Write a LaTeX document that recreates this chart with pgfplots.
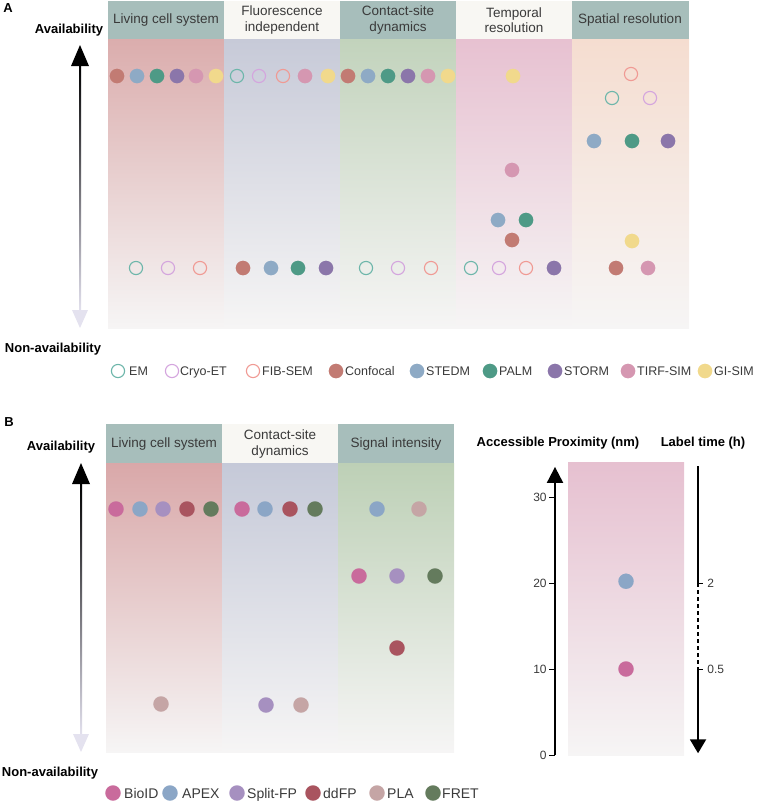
\documentclass[border=0pt]{standalone}
\usepackage{fontspec}
\setmainfont{Liberation Sans}
\usepackage{pgfplots}
\pgfplotsset{compat=1.18}
\usetikzlibrary{arrows.meta}

% marker colours, panel A
\definecolor{cEM}{HTML}{6DB6AA}
\definecolor{cCryo}{HTML}{D4A5DE}
\definecolor{cFIB}{HTML}{F09A94}
\definecolor{cConf}{HTML}{C27B73}
\definecolor{cSTED}{HTML}{8EAAC5}
\definecolor{cPALM}{HTML}{4E9A86}
\definecolor{cSTORM}{HTML}{8B76AA}
\definecolor{cTIRF}{HTML}{D597B1}
\definecolor{cGI}{HTML}{F1D98C}
% marker colours, panel B
\definecolor{cBioID}{HTML}{C96B9C}
\definecolor{cAPEX}{HTML}{8BA6C6}
\definecolor{cSplit}{HTML}{A690C0}
\definecolor{cddFP}{HTML}{A9545F}
\definecolor{cPLA}{HTML}{C5A5A5}
\definecolor{cFRET}{HTML}{647B5D}
% backgrounds
\definecolor{hdrT}{HTML}{A7BEBB}
\definecolor{hdrW}{HTML}{F8F7F3}
\definecolor{txt}{HTML}{3A3A3A}
\definecolor{botc}{HTML}{F6F5F5}
\definecolor{lav}{HTML}{E4E2EF}
\definecolor{gLiv}{HTML}{DBADAD}
\definecolor{gFlu}{HTML}{C7CAD8}
\definecolor{gCon}{HTML}{C2D3BC}
\definecolor{gTem}{HTML}{E7C1D1}
\definecolor{gSpa}{HTML}{F5DDD0}
\definecolor{gLivB}{HTML}{D9A8A9}
\definecolor{gConB}{HTML}{C5C9D8}
\definecolor{gSigB}{HTML}{BDD0B6}
\definecolor{gPink}{HTML}{E6C0D0}

\pgfplotsset{
  op/.style={only marks, mark=o, mark size=6.6pt, color=#1, mark options={line width=1.1pt}},
  fl/.style={only marks, mark=*, mark size=7.2pt, color=#1, mark options={fill=#1, draw=#1, line width=0.1pt}},
  flb/.style={only marks, mark=*, mark size=7.6pt, color=#1, mark options={fill=#1, draw=#1, line width=0.1pt}},
}
\newcommand\hf{\fontsize{13.5}{15.5}\selectfont}
\newcommand\bfn{\fontsize{13}{15}\selectfont\bfseries}
\newcommand\lf{\fontsize{12.5}{14}\selectfont}
\newcommand\lfb{\fontsize{14}{16}\selectfont}
\newcommand\tf{\fontsize{12}{14}\selectfont}

\begin{document}
\begin{tikzpicture}
\useasboundingbox (0,0) rectangle (770pt,-802pt);
\begin{axis}[at={(0pt,0pt)}, anchor=north west, scale only axis,
  width=770pt, height=802pt, xmin=0, xmax=770, ymin=0, ymax=802,
  y dir=reverse, hide axis, clip=false]

% ---------------- Panel A backgrounds
\shade[top color=gLiv, bottom color=botc] (108,39) rectangle (224,328);
\shade[top color=gFlu, bottom color=botc] (224,39) rectangle (340,328);
\shade[top color=gCon, bottom color=botc] (340,39) rectangle (456,328);
\shade[top color=gTem, bottom color=botc] (456,39) rectangle (572,328);
\shade[top color=gSpa, bottom color=botc] (572,39) rectangle (689,328);
\fill[hdrT] (108,1) rectangle (224,39);
\fill[hdrW] (224,1) rectangle (340,39);
\fill[hdrT] (340,1) rectangle (456,39);
\fill[hdrW] (456,1) rectangle (572,39);
\fill[hdrT] (572,1) rectangle (689,39);
\node[font=\hf, text=txt] at (166,20) {Living cell system};
\node[font=\hf, text=txt, align=center] at (282,20) {Fluorescence\\independent};
\node[font=\hf, text=txt, align=center] at (398,20) {Contact-site\\dynamics};
\node[font=\hf, text=txt, align=center] at (514,20) {Temporal\\resolution};
\node[font=\hf, text=txt] at (630,20) {Spatial resolution};

\node[font=\bfn] at (8,8) {A};
\node[font=\bfn] at (69,30) {Availability};
\node[font=\bfn] at (53,349) {Non-availability};
\shade[top color=black, bottom color=lav] (79,64) rectangle (81,312);
\fill[black] (80,45) -- (71,66) -- (89,66) -- cycle;
\fill[lav] (80,328) -- (72,310) -- (88,310) -- cycle;

% ---------------- Panel A data
\addplot[op=cEM]   coordinates {(237,76) (612,98) (136,268) (366,268) (471,268)};
\addplot[op=cCryo] coordinates {(259,76) (650,98) (168,268) (398,268) (499,268)};
\addplot[op=cFIB]  coordinates {(283,76) (631,74) (200,268) (431,268) (526,268)};
\addplot[fl=cConf] coordinates {(117,76) (348,76) (512,240) (616,268) (243,268)};
\addplot[fl=cSTED] coordinates {(137,76) (368,76) (594,141) (498,220) (271,268)};
\addplot[fl=cPALM] coordinates {(157,76) (388,76) (632,141) (526,220) (298,268)};
\addplot[fl=cSTORM] coordinates {(177,76) (408,76) (668,141) (326,268) (554,268)};
\addplot[fl=cTIRF] coordinates {(196,76) (305,76) (428,76) (512,170) (648,268)};
\addplot[fl=cGI]   coordinates {(216,76) (328,76) (448,76) (513,76) (632,241)};

% ---------------- Panel A legend
\addplot[op=cEM]   coordinates {(118,371)};
\addplot[op=cCryo] coordinates {(172,371)};
\addplot[op=cFIB]  coordinates {(253,371)};
\addplot[fl=cConf] coordinates {(336,371)};
\addplot[fl=cSTED] coordinates {(417,371)};
\addplot[fl=cPALM] coordinates {(490,371)};
\addplot[fl=cSTORM] coordinates {(555,371)};
\addplot[fl=cTIRF] coordinates {(628,371)};
\addplot[fl=cGI]   coordinates {(705,371)};
\node[font=\lf, anchor=base west, text=txt, inner sep=0pt] at (129,375.5) {EM};
\node[font=\lf, anchor=base west, text=txt, inner sep=0pt] at (180,375.5) {Cryo-ET};
\node[font=\lf, anchor=base west, text=txt, inner sep=0pt] at (262,375.5) {FIB-SEM};
\node[font=\lf, anchor=base west, text=txt, inner sep=0pt] at (345,375.5) {Confocal};
\node[font=\lf, anchor=base west, text=txt, inner sep=0pt] at (426,375.5) {STEDM};
\node[font=\lf, anchor=base west, text=txt, inner sep=0pt] at (499,375.5) {PALM};
\node[font=\lf, anchor=base west, text=txt, inner sep=0pt] at (564,375.5) {STORM};
\node[font=\lf, anchor=base west, text=txt, inner sep=0pt] at (637,375.5) {TIRF-SIM};
\node[font=\lf, anchor=base west, text=txt, inner sep=0pt] at (714,375.5) {GI-SIM};

% ---------------- Panel B backgrounds
\shade[top color=gLivB, bottom color=botc] (106,463) rectangle (222,752);
\shade[top color=gConB, bottom color=botc] (222,463) rectangle (338,752);
\shade[top color=gSigB, bottom color=botc] (338,463) rectangle (454,752);
\fill[hdrT] (106,424) rectangle (222,463);
\fill[hdrW] (222,424) rectangle (338,463);
\fill[hdrT] (338,424) rectangle (454,463);
\node[font=\hf, text=txt] at (164,444) {Living cell system};
\node[font=\hf, text=txt, align=center] at (280,444) {Contact-site\\dynamics};
\node[font=\hf, text=txt] at (396,444) {Signal intensity};

\node[font=\bfn] at (9,422) {B};
\node[font=\bfn] at (61,447) {Availability};
\node[font=\bfn] at (50,773) {Non-availability};
\shade[top color=black, bottom color=lav] (80,482) rectangle (82,736);
\fill[black] (81,463) -- (72,484) -- (90,484) -- cycle;
\fill[lav] (81,752) -- (73,734) -- (89,734) -- cycle;

% ---------------- Panel B data
\addplot[flb=cBioID] coordinates {(116,509) (242,509) (359,576)};
\addplot[flb=cAPEX]  coordinates {(140,509) (265,509) (377,509)};
\addplot[flb=cSplit] coordinates {(163,509) (397,576) (266,705)};
\addplot[flb=cddFP]  coordinates {(187,509) (290,509) (397,648)};
\addplot[flb=cPLA]   coordinates {(419,509) (161,704) (301,705)};
\addplot[flb=cFRET]  coordinates {(211,509) (315,509) (435,576)};

% ---------------- Panel B legend
\addplot[flb=cBioID] coordinates {(113,793)};
\addplot[flb=cAPEX]  coordinates {(170,793)};
\addplot[flb=cSplit] coordinates {(237,793)};
\addplot[flb=cddFP]  coordinates {(313,793)};
\addplot[flb=cPLA]   coordinates {(377,793)};
\addplot[flb=cFRET]  coordinates {(433,793)};
\node[font=\lfb, anchor=base west, text=txt, inner sep=0pt] at (124,798) {BioID};
\node[font=\lfb, anchor=base west, text=txt, inner sep=0pt] at (182,798) {APEX};
\node[font=\lfb, anchor=base west, text=txt, inner sep=0pt] at (247,798) {Split-FP};
\node[font=\lfb, anchor=base west, text=txt, inner sep=0pt] at (323,798) {ddFP};
\node[font=\lfb, anchor=base west, text=txt, inner sep=0pt] at (387,798) {PLA};
\node[font=\lfb, anchor=base west, text=txt, inner sep=0pt] at (442,798) {FRET};

\node[font=\bfn] at (558,443) {Accessible Proximity (nm)};
\node[font=\bfn] at (703,443) {Label time (h)};
\end{axis}

% ---------------- Panel B right: accessible proximity
\begin{axis}[at={(568pt,-755pt)}, anchor=south west, scale only axis,
  width=116pt, height=293pt, xmin=0, xmax=1, ymin=0, ymax=34.07,
  hide axis, clip=false]
\shade[top color=gPink, bottom color=botc] (0,0) rectangle (1,34.07);
\addplot[flb=cAPEX]  coordinates {(0.5,20.2)};
\addplot[flb=cBioID] coordinates {(0.5,10)};
\draw[line width=2pt, -{Triangle[width=16pt,length=16pt]}] (-0.112,0) -- (-0.112,33.5);
\pgfplotsinvokeforeach{0,10,20,30}{
  \draw[line width=0.8pt] (-0.112,#1) -- ++(-6pt,0) node[left, font=\tf, text=txt, inner sep=2pt] {#1};
}
\draw[line width=2pt] (1.121,33.55) -- (1.121,20);
\draw[line width=2pt, dash pattern=on 4pt off 3pt] (1.121,20) -- (1.121,10);
\draw[line width=2pt, -{Triangle[width=16pt,length=14pt]}] (1.121,10) -- (1.121,0.2);
\draw[line width=0.8pt] (1.121,20) -- ++(5pt,0) node[right, font=\tf, text=txt, inner sep=4pt] {2};
\draw[line width=0.8pt] (1.121,10) -- ++(5pt,0) node[right, font=\tf, text=txt, inner sep=4pt] {0.5};
\end{axis}
\end{tikzpicture}
\end{document}
